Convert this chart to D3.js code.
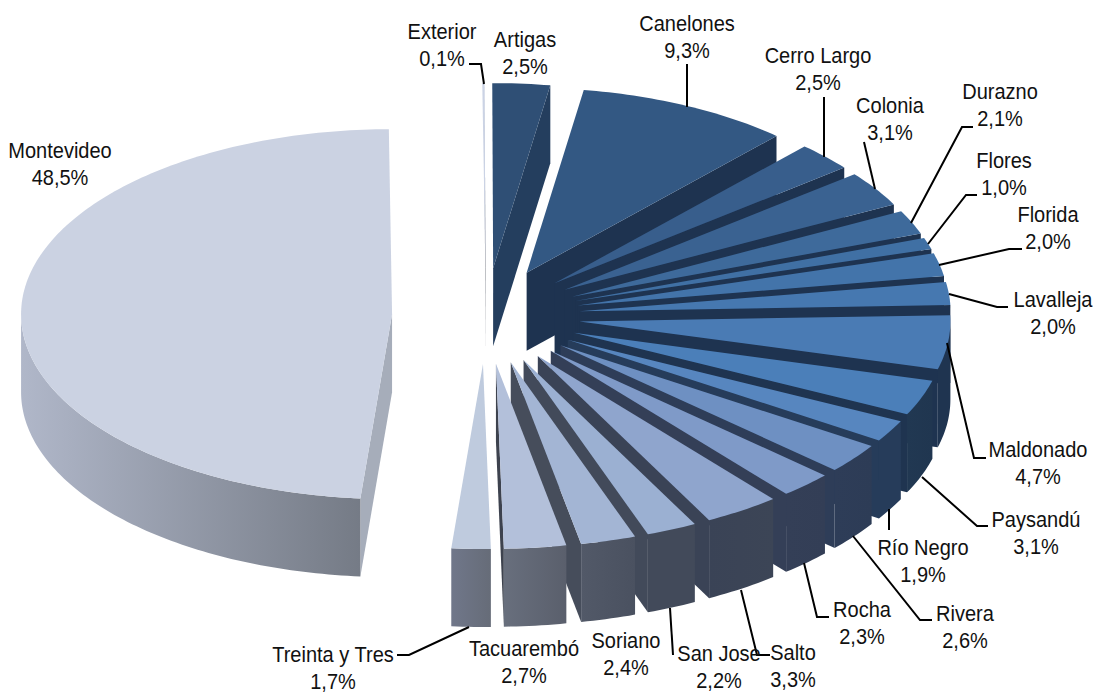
<!DOCTYPE html>
<html>
<head>
<meta charset="utf-8">
<script src="https://d3js.org/d3.v7.min.js"></script>
<style>
html, body {margin: 0; padding: 0; background: #fff;}
svg {display: block;}
text {font-family: "Liberation Sans", Arial, sans-serif; font-size: 22px; fill: #111; text-anchor: middle;}
</style>
</head>
<body>
<svg id="chart" width="1099" height="693"></svg>
<script>
// data
const departments = ["Exterior", "Artigas", "Canelones", "Cerro Largo", "Colonia", "Durazno", "Flores", "Florida",
    "Lavalleja", "Maldonado", "Paysandú", "Río Negro", "Rivera", "Rocha", "Salto", "San Jose", "Soriano",
    "Tacuarembó", "Treinta y Tres", "Montevideo"];
const shares = [0.1, 2.5, 9.3, 2.5, 3.1, 2.1, 1.0, 2.0, 2.0, 4.7, 3.1, 1.9, 2.6, 2.3, 3.3, 2.2, 2.4, 2.7, 1.7, 48.5];

// colours, same order as departments
const topColors = ["#cbd3e5", "#2f4f75", "#335883", "#385e8c", "#3a6291", "#3e6a9b", "#4070a4", "#4374aa",
    "#4678b0", "#4a7bb4", "#4b7fb9", "#5786bf", "#6e90c2", "#7f9ac8", "#8fa5cd", "#9bb0d2", "#a3b5d4",
    "#b3c0da", "#bfcbde", "#cbd2e2"];
const sideColors = ["#555a66", "#243e5e", "#1e3350", "#1e3350", "#1e3350", "#1e3350", "#1e3350", "#1e3350",
    "#1e3350", "#1e3350", "#1f3450", "#263c5a", "#2e3d58", "#343f57", "#3a4356", "#424a5a", "#464d5b",
    "#3d424e", "#6c7380", "#a6adba"];
const frontLeft = ["#888", "#243e5e", "#1e3350", "#1e3350", "#1e3350", "#1e3350", "#1e3350", "#1e3350",
    "#1e3350", "#1f3450", "#213852", "#263c5a", "#2e3d58", "#343f57", "#3a4356", "#424a5a", "#525968",
    "#686f7d", "#70778a", "#b0b7c9"];
const frontRight = ["#888", "#243e5e", "#1e3350", "#1e3350", "#1e3350", "#1e3350", "#1e3350", "#1e3350",
    "#1e3350", "#1f3450", "#203650", "#263c5a", "#2d3c56", "#333e56", "#3c4556", "#424a5a", "#4a5160",
    "#5a5f6c", "#666c78", "#757b86"];

// label placement: centre x, first baseline
const labelX = [442, 525, 687, 818, 890, 1000, 1004, 1048, 1053, 1038, 1036, 923, 965, 862, 793, 719, 626, 524, 333, 60];
const labelY = [39, 47, 31, 63, 113, 99, 168, 222, 307, 457, 527, 555, 621, 617, 660, 661, 648, 656, 662, 158];
const leaders = [
    [[469, 64], [481, 64], [484, 84]],
    [[687, 64], [687, 107]],
    [[824, 97], [824, 157]],
    [[864, 142], [875, 189]],
    [[973, 127], [962, 127], [911, 223]],
    [[977, 195], [966, 195], [928, 244]],
    [[1022, 249], [1009, 249], [939, 265]],
    [[1008, 307], [997, 307], [949, 294]],
    [[986, 458], [974, 458], [947, 343]],
    [[988, 526], [977, 526], [922, 477]],
    [[889, 530], [889, 509]],
    [[932, 620], [920, 620], [853, 536]],
    [[829, 617], [817, 617], [804, 563]],
    [[770, 655], [757, 655], [741, 590]],
    [[670, 608], [673, 655]],
    [[397, 655], [409, 655], [469, 627]]
];

// geometry of the tilted pie
const centerX = 486, centerY = 316;
const explodeX = 94, explodeY = 48;
const radiusX = 371, radiusY = 185;
const depth = 78;
const firstAngle = -0.0087; // the pie starts just left of 12 o'clock

const svg = d3.select("#chart");
const defs = svg.append("defs");
const chart = svg.append("g");

const pie = d3.pie().sort(null).value(function(d) {return d;}).startAngle(firstAngle).endAngle(firstAngle + 2 * Math.PI);
const arcs = pie(shares);

// unit circle -> screen for one slice, the apex moves out along the middle angle
const xscale = d3.scaleLinear().domain([-1, 1]).range([-radiusX, radiusX]);
const yscale = d3.scaleLinear().domain([-1, 1]).range([-radiusY, radiusY]);
const line = d3.line();

function project(arc, angle, r, z) {
    const mid = (arc.startAngle + arc.endAngle) / 2;
    const ax = centerX + explodeX * Math.sin(mid);
    const ay = centerY - explodeY * Math.cos(mid);
    return [ax + xscale(r * Math.sin(angle)), ay - yscale(r * Math.cos(angle)) + z];
}

function rim(arc, from, to, z) {
    const n = Math.max(2, Math.ceil((to - from) / (Math.PI / 180)));
    return d3.range(n + 1).map(function(i) {
        return project(arc, from + (to - from) * i / n, 1, z);
    });
}

function gradient(id, x0, x1, c0, c1) {
    const g = defs.append("linearGradient").attr("id", id).attr("gradientUnits", "userSpaceOnUse")
        .attr("x1", x0).attr("x2", x1).attr("y1", 0).attr("y2", 0);
    g.append("stop").attr("offset", 0).attr("stop-color", c0);
    g.append("stop").attr("offset", 1).attr("stop-color", c1);
}

arcs.forEach(function(arc, i) {
    const s = arc.startAngle, e = arc.endAngle;
    const g = chart.append("g").attr("class", "slice");

    // side wall of the slice end, faces the viewer in the right half
    if (e < Math.PI) {
        g.append("path")
            .attr("d", line([project(arc, e, 0, 0), project(arc, e, 1, 0), project(arc, e, 1, depth), project(arc, e, 0, depth)]) + "Z")
            .attr("fill", sideColors[i]);
    }
    // side wall of the slice start, faces the viewer in the left half
    if (s > Math.PI) {
        g.append("path")
            .attr("d", line([project(arc, s, 0, 0), project(arc, s, 1, 0), project(arc, s, 1, depth), project(arc, s, 0, depth)]) + "Z")
            .attr("fill", sideColors[i]);
    }
    // curved front wall
    const from = Math.max(s, Math.PI / 2), to = Math.min(e, 3 * Math.PI / 2);
    if (to > from) {
        const upper = rim(arc, from, to, 0);
        const lower = rim(arc, from, to, depth).reverse();
        const xs = d3.extent(upper, function(p) {return p[0];});
        gradient("front" + i, xs[0], xs[1], frontLeft[i], frontRight[i]);
        g.append("path")
            .attr("d", line(upper.concat(lower)) + "Z")
            .attr("fill", "url(#front" + i + ")");
    }
    // top face
    g.append("path")
        .attr("d", line([project(arc, s, 0, 0)].concat(rim(arc, s, e, 0))) + "Z")
        .attr("fill", topColors[i]);
});

// leader lines
chart.selectAll(".leader")
    .data(leaders)
    .enter()
    .append("path")
    .attr("class", "leader")
    .attr("d", function(d) {return line(d);})
    .attr("fill", "none")
    .attr("stroke", "#000")
    .attr("stroke-width", 2);

// labels, slightly narrowed like the original
const labels = chart.selectAll(".label")
    .data(departments)
    .enter()
    .append("g")
    .attr("class", "label")
    .attr("transform", function(d, i) {return "translate(" + labelX[i] + "," + labelY[i] + ") scale(0.91,1)";});
labels.append("text").text(function(d) {return d;});
labels.append("text").attr("y", 27.5).text(function(d, i) {return shares[i].toFixed(1).replace(".", ",") + "%";});
</script>
</body>
</html>
